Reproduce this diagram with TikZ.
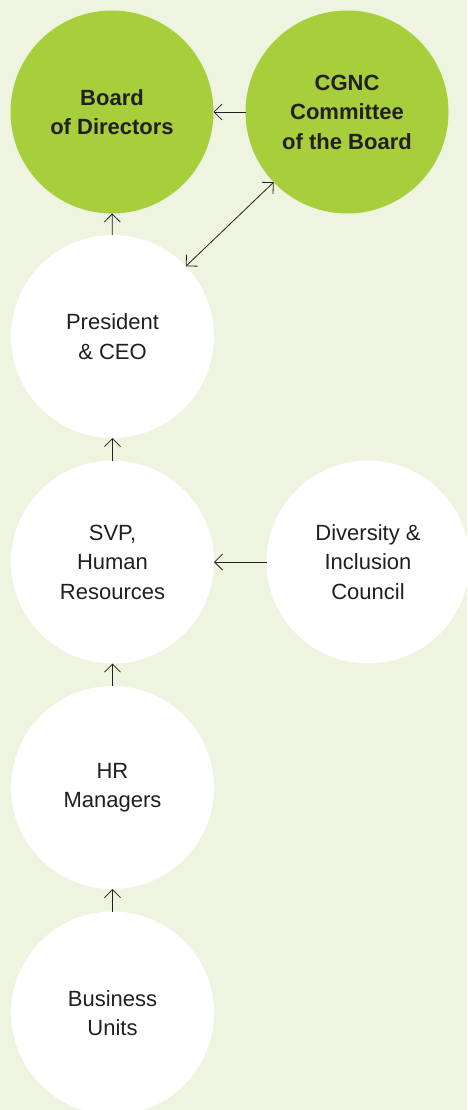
\documentclass[tikz,border=0pt]{standalone}
\usepackage{fontspec}
\setmainfont{Liberation Sans}
\usetikzlibrary{arrows.meta}
\definecolor{bgc}{HTML}{EEF4DF}
\definecolor{grn}{HTML}{A7CE3B}
\definecolor{txt}{HTML}{231F20}
\begin{document}
\begin{tikzpicture}[x=1pt,y=-1pt,
  every node/.style={circle,minimum size=203pt,inner sep=0pt,outer sep=0pt,
    align=center,text=txt,font=\fontsize{22}{29.5}\selectfont},
  gnode/.style={fill=grn,font=\fontsize{22}{29.5}\selectfont\bfseries},
  wnode/.style={fill=white},
  conn/.style={draw=txt,line width=0.8pt,-{Straight Barb[length=8pt,width=16pt,line width=0.8pt]}},
  conn2/.style={draw=txt,line width=0.8pt,{Straight Barb[length=8pt,width=16pt,line width=0.8pt]}-{Straight Barb[length=8pt,width=16pt,line width=0.8pt]}}]
\fill[bgc] (0,0) rectangle (467,1110);
\useasboundingbox (0,0) rectangle (467,1110);
\node[gnode] (board) at (112,112) {Board\\of Directors};
\node[gnode] (cgnc) at (347,112) {CGNC\\Committee\\of the Board};
\node[wnode] (pres) at (112.5,336.5) {President\\\& CEO};
\node[wnode] (svp) at (112.5,562) {SVP,\\Human\\Resources};
\node[wnode] (div) at (368,562) {Diversity \&\\Inclusion\\Council};
\node[wnode] (hr) at (112.5,787.5) {HR\\Managers};
\node[wnode] (bu) at (112.5,1013) {Business\\Units};
\draw[conn] (cgnc) -- (board);
\draw[conn] (pres) -- (board);
\draw[conn2] (pres) -- (cgnc);
\draw[conn] (svp) -- (pres);
\draw[conn] (div) -- (svp);
\draw[conn] (hr) -- (svp);
\draw[conn] (bu) -- (hr);
\end{tikzpicture}
\end{document}
